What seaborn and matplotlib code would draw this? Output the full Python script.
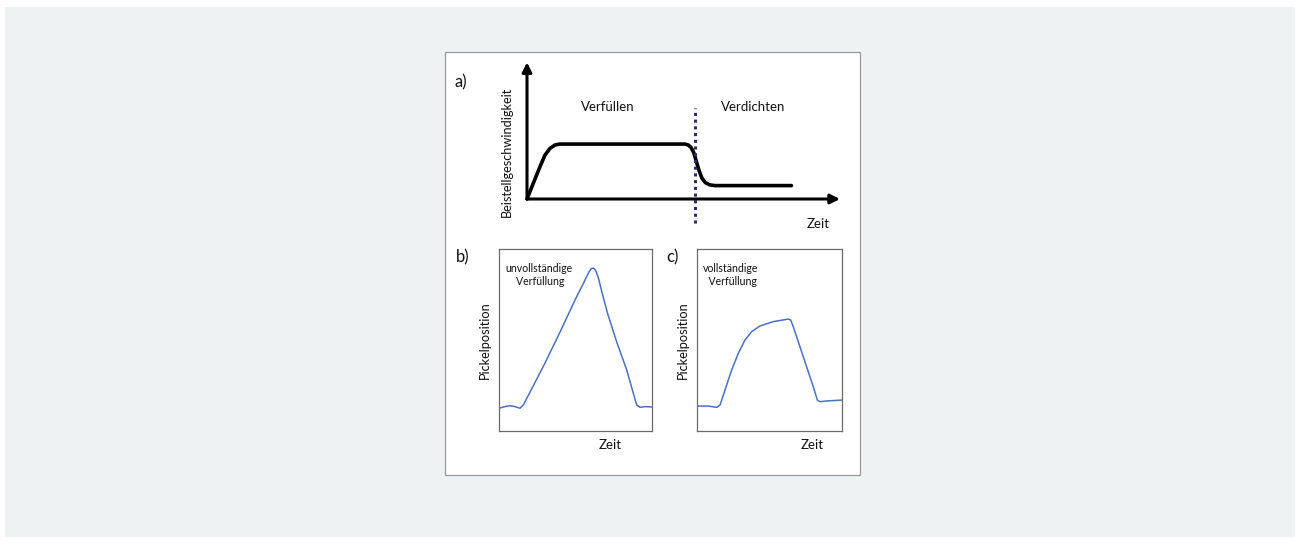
import matplotlib
matplotlib.use("Agg")
import matplotlib.pyplot as plt
from matplotlib.patches import Rectangle
import seaborn as sns
import pandas as pd

# a) Beistellgeschwindigkeit over Zeit (schematic)
a_zeit = [0, 2.0, 4.15, 5.75, 7.35, 8.95, 10.5, 50.5, 51.5, 52.4, 53.3, 54.1,
          55.0, 55.9, 57.0, 58.3, 60.0, 84.5]
a_speed = [0, 11.7, 24.1, 32.8, 37.8, 40.3, 41.0, 41.0, 40.3, 38.5, 34.5, 28.0,
           21.0, 15.5, 12.2, 10.6, 10.0, 10.0]
a_switch = 53.8

# b) unvollständige Verfüllung
b_zeit = [0, 3.9, 7.2, 10.5, 13.7, 15.9, 20.3, 30.1, 39.9, 49.7, 55.6, 58.8,
          60.4, 61.8, 63.3, 65.0, 67.2, 71.0, 76.9, 83.5, 87.8, 90.0, 92.2,
          95.4, 100]
b_pos = [12.5, 13.4, 13.9, 13.4, 12.5, 14.3, 21.4, 37.4, 54.4, 72.0, 81.9, 87.4,
         89.3, 89.5, 88.0, 84.0, 76.5, 64.5, 49.0, 33.5, 20.7, 14.3, 13.0,
         13.4, 13.2]

# c) vollständige Verfüllung
c_zeit = [0, 7.8, 13.6, 15.9, 19.3, 23.9, 28.5, 33.1, 37.7, 43.4, 52.6, 63.0,
          64.6, 66.4, 71.0, 75.6, 80.2, 83.0, 84.8, 89.4, 100]
c_pos = [13.7, 13.7, 13.0, 14.3, 22.5, 33.5, 42.7, 50.0, 54.6, 57.7, 60.1, 61.5,
         61.0, 57.3, 46.3, 35.3, 24.3, 17.0, 16.1, 16.5, 17.0]

sns.set_style("white")
plt.rcParams['font.family'] = ['Lato', 'DejaVu Sans']
plt.rcParams['text.color'] = '#111111'

W, H = 1300, 543
fig = plt.figure(figsize=(W / 100, H / 100), dpi=100)
fig.patch.set_facecolor('white')


def fx(px):
    return px / W


def fy(py):
    return 1 - py / H


# page background and white card (behind the axes)
fig.patches.append(Rectangle((fx(5), fy(537)), fx(1290), 530 / H,
                             transform=fig.transFigure, facecolor='#eef2f3',
                             edgecolor='none', zorder=-3))
fig.patches.append(Rectangle((fx(445), fy(475)), fx(415), 423 / H,
                             transform=fig.transFigure, facecolor='white',
                             edgecolor='#9a9a9a', lw=0.9, zorder=-2))

# ---- panel a
ax_a = fig.add_axes([fx(527), fy(199), fx(313), 134 / H])
ax_a.set_xlim(0, 100)
ax_a.set_ylim(0, 100)
ax_a.axis('off')
df_a = pd.DataFrame({'Zeit': a_zeit, 'v': a_speed})
sns.lineplot(data=df_a, x='Zeit', y='v', ax=ax_a, color='black', lw=2.6,
             sort=False, clip_on=False, solid_joinstyle='round',
             solid_capstyle='round')
ax_a.annotate('', xy=(0, 1.02), xytext=(0, 0), xycoords='axes fraction',
              arrowprops=dict(arrowstyle='-|>', lw=2.2, color='black',
                              mutation_scale=14, shrinkA=0, shrinkB=0))
ax_a.annotate('', xy=(1.0, 0), xytext=(0, 0), xycoords='axes fraction',
              arrowprops=dict(arrowstyle='-|>', lw=2.2, color='black',
                              mutation_scale=14, shrinkA=0, shrinkB=0))
ax_a.plot([a_switch, a_switch], [-18, 68], ls=(0, (1, 1.2)), color='#2b2b6b',
          lw=2.2, clip_on=False)

fig.text(fx(455), fy(82), 'a)', fontsize=12, ha='left', va='center')
fig.text(fx(507), fy(152), 'Beistellgeschwindigkeit', fontsize=9.2, rotation=90,
         ha='center', va='center')
fig.text(fx(608), fy(107), 'Verfüllen', fontsize=9.5, ha='center', va='center')
fig.text(fx(753), fy(107), 'Verdichten', fontsize=9.5, ha='center', va='center')
fig.text(fx(818), fy(224), 'Zeit', fontsize=9.5, ha='center', va='center')

# ---- panels b and c
blue = '#4a72c0'
for left, width, zeit, pos, lbl, note, cx in [
        (499, 153, b_zeit, b_pos, 'b)', 'unvollständige\n    Verfüllung', 610),
        (697, 145, c_zeit, c_pos, 'c)', 'vollständige\n  Verfüllung', 812)]:
    ax = fig.add_axes([fx(left), fy(431), fx(width), 182 / H])
    df = pd.DataFrame({'Zeit': zeit, 'pos': pos})
    sns.lineplot(data=df, x='Zeit', y='pos', ax=ax, color=blue, lw=1.1,
                 solid_joinstyle='round')
    ax.set_xlim(0, 100)
    ax.set_ylim(0, 100)
    ax.set_xticks([])
    ax.set_yticks([])
    ax.set_xlabel('')
    ax.set_ylabel('')
    for s in ax.spines.values():
        s.set_color('#6b6b6b')
        s.set_linewidth(0.9)
    ax.text(6 / width, 0.925, note, transform=ax.transAxes, fontsize=7.6,
            ha='left', va='top', linespacing=1.25)
    fig.text(fx(cx), fy(445), 'Zeit', fontsize=9.5, ha='center', va='center')
    fig.text(fx(left - 14), fy(340), 'Pickelposition', fontsize=9.2,
             rotation=90, ha='center', va='center')
    fig.text(fx(left - 43 if lbl == 'b)' else left - 31), fy(257), lbl,
             fontsize=12, ha='left', va='center')

fig.savefig('out.png', dpi=100, facecolor=fig.get_facecolor())
